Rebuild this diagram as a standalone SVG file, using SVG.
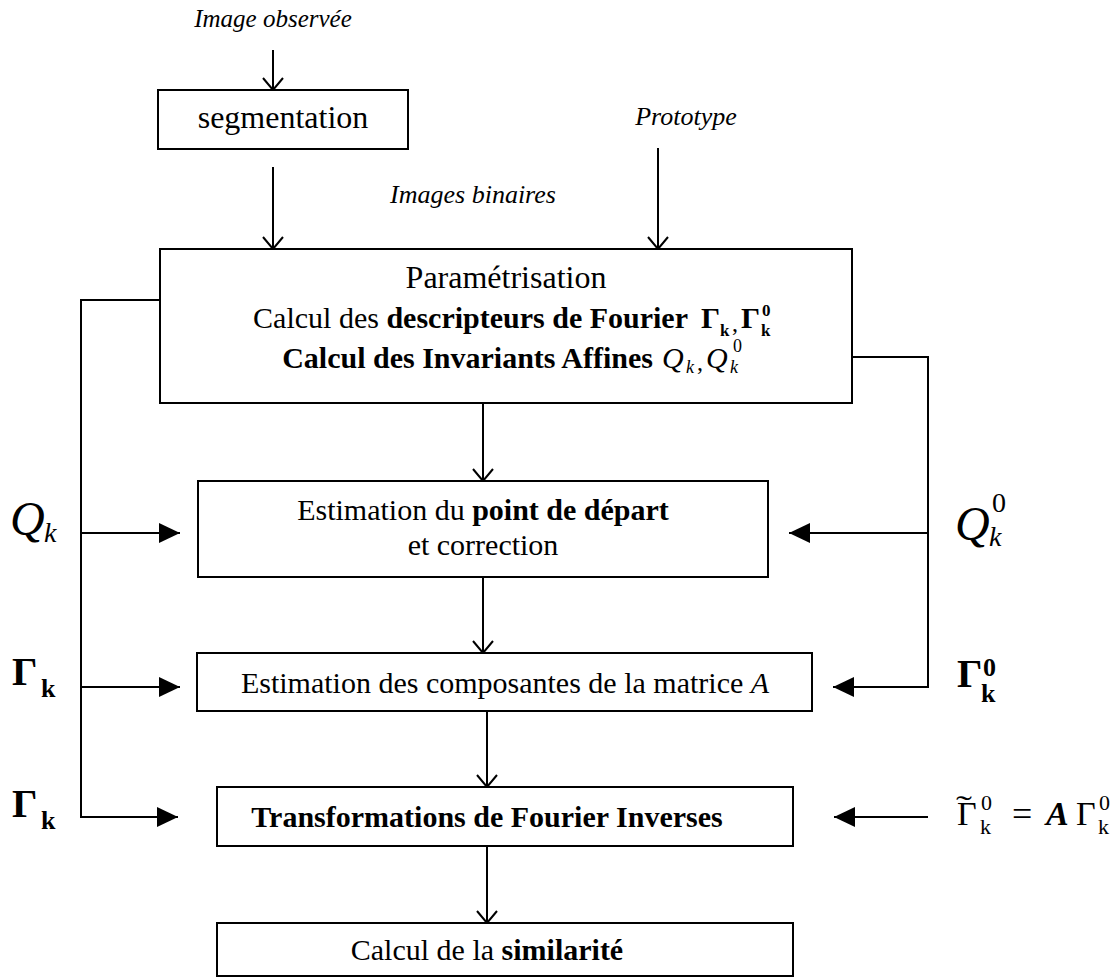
<svg xmlns="http://www.w3.org/2000/svg" width="1119" height="979" viewBox="0 0 1119 979">
<defs>
<style>
.box{fill:#fff;stroke:#000;stroke-width:2}
.ln{fill:none;stroke:#000;stroke-width:2}
.t{font-family:"Liberation Serif","Times New Roman",serif;fill:#000}
.m{font-size:30px}
.lbl{font-size:26px;font-style:italic}
.b{font-weight:bold}
.i{font-style:italic}
</style>
<marker id="open" markerWidth="14" markerHeight="22" refX="13" refY="11" orient="auto" markerUnits="userSpaceOnUse">
<path d="M1,1 L13,11 L1,21" fill="none" stroke="#000" stroke-width="2"/>
</marker>
<marker id="fill" markerWidth="22" markerHeight="22" refX="21" refY="11" orient="auto" markerUnits="userSpaceOnUse">
<path d="M0,1 L21,11 L0,21 Z" fill="#000"/>
</marker>
</defs>

<g id="connectors">
<line class="ln" x1="273" y1="50" x2="273" y2="90" marker-end="url(#open)"/>
<line class="ln" x1="273" y1="167" x2="273" y2="249" marker-end="url(#open)"/>
<line class="ln" x1="658" y1="148" x2="658" y2="249" marker-end="url(#open)"/>
<line class="ln" x1="483" y1="403" x2="483" y2="481" marker-end="url(#open)"/>
<line class="ln" x1="483" y1="577" x2="483" y2="653" marker-end="url(#open)"/>
<line class="ln" x1="487" y1="711" x2="487" y2="787" marker-end="url(#open)"/>
<line class="ln" x1="487" y1="846" x2="487" y2="923" marker-end="url(#open)"/>
<polyline class="ln" points="160,300 81,300 81,817 178,817" marker-end="url(#fill)"/>
<line class="ln" x1="81" y1="533" x2="180" y2="533" marker-end="url(#fill)"/>
<line class="ln" x1="81" y1="687" x2="180" y2="687" marker-end="url(#fill)"/>
<polyline class="ln" points="852,357 928,357 928,687 833,687" marker-end="url(#fill)"/>
<line class="ln" x1="928" y1="533" x2="789" y2="533" marker-end="url(#fill)"/>
<line class="ln" x1="928" y1="817" x2="834" y2="817" marker-end="url(#fill)"/>
</g>

<g id="label-image-observee">
<text class="t lbl" x="273" y="27" text-anchor="middle" style="font-size:25px">Image observée</text>
</g>
<g id="label-prototype">
<text class="t lbl" x="686" y="125" text-anchor="middle">Prototype</text>
</g>
<g id="label-images-binaires">
<text class="t lbl" x="473" y="203" text-anchor="middle">Images binaires</text>
</g>

<g id="segmentation">
<rect class="box" x="158" y="90" width="250" height="59"/>
<text class="t" x="283" y="128" text-anchor="middle" style="font-size:32px">segmentation</text>
</g>

<g id="parametrisation">
<rect class="box" x="160" y="249" width="692" height="154"/>
<text class="t" x="506" y="288" text-anchor="middle" style="font-size:32px">Paramétrisation</text>
<text class="t m" x="688" y="328" text-anchor="end">Calcul des <tspan class="b">descripteurs de Fourier</tspan></text>
<text class="t b" x="701" y="328" style="font-size:30px">Γ</text>
<text class="t b" x="720" y="336" style="font-size:17px">k</text>
<text class="t" x="732" y="331" style="font-size:24px">,</text>
<text class="t b" x="741" y="328" style="font-size:30px">Γ</text>
<text class="t b" x="761" y="336" style="font-size:17px">k</text>
<text class="t b" x="762" y="316" style="font-size:17px">0</text>
<text class="t m b" x="653" y="368" text-anchor="end">Calcul des Invariants Affines</text>
<text class="t i" x="662" y="368" style="font-size:30px">Q</text>
<text class="t i" x="686" y="373" style="font-size:18px">k</text>
<text class="t" x="697" y="370" style="font-size:24px">,</text>
<text class="t i" x="706" y="368" style="font-size:30px">Q</text>
<text class="t i" x="730" y="373" style="font-size:18px">k</text>
<text class="t" x="733" y="352" style="font-size:18px">0</text>
</g>

<g id="estimation-point">
<rect class="box" x="198" y="481" width="570" height="96"/>
<text class="t m" x="483" y="520" text-anchor="middle">Estimation du <tspan class="b">point de départ</tspan></text>
<text class="t m" x="483" y="555" text-anchor="middle">et correction</text>
</g>

<g id="estimation-matrice">
<rect class="box" x="197" y="653" width="615" height="58"/>
<text class="t m" x="505" y="693" text-anchor="middle">Estimation des composantes de la matrice <tspan class="i">A</tspan></text>
</g>

<g id="transformations">
<rect class="box" x="217" y="787" width="576" height="59"/>
<text class="t m b" x="487" y="827" text-anchor="middle">Transformations de Fourier Inverses</text>
</g>

<g id="similarite">
<rect class="box" x="217" y="923" width="576" height="53"/>
<text class="t m" x="487" y="960" text-anchor="middle">Calcul de la <tspan class="b">similarité</tspan></text>
</g>

<g id="left-labels">
<text class="t i" x="10" y="535" style="font-size:48px">Q</text>
<text class="t i" x="44" y="542" style="font-size:28px">k</text>
<text class="t b" x="12" y="685" style="font-size:40px">Γ</text>
<text class="t b" x="41" y="697" style="font-size:26px">k</text>
<text class="t b" x="12" y="817" style="font-size:40px">Γ</text>
<text class="t b" x="41" y="829" style="font-size:26px">k</text>
</g>

<g id="right-labels">
<text class="t i" x="955" y="540" style="font-size:48px">Q</text>
<text class="t i" x="989" y="546" style="font-size:28px">k</text>
<text class="t" x="992" y="512" style="font-size:28px">0</text>
<text class="t b" x="957" y="687" style="font-size:40px">Γ</text>
<text class="t b" x="981" y="702" style="font-size:26px">k</text>
<text class="t b" x="983" y="676" style="font-size:26px">0</text>
<text class="t" x="957" y="825" style="font-size:34px">Γ</text>
<text class="t" transform="translate(956,816) scale(1.6,1)" x="0" y="0" style="font-size:30px">˜</text>
<text class="t" x="980" y="834" style="font-size:22px">k</text>
<text class="t" x="981" y="810" style="font-size:22px">0</text>
<text class="t" x="1012" y="826" style="font-size:36px">=</text>
<text class="t b i" x="1046" y="825" style="font-size:34px">A</text>
<text class="t" x="1076" y="825" style="font-size:34px">Γ</text>
<text class="t" x="1098" y="834" style="font-size:22px">k</text>
<text class="t" x="1099" y="810" style="font-size:22px">0</text>
</g>
</svg>
